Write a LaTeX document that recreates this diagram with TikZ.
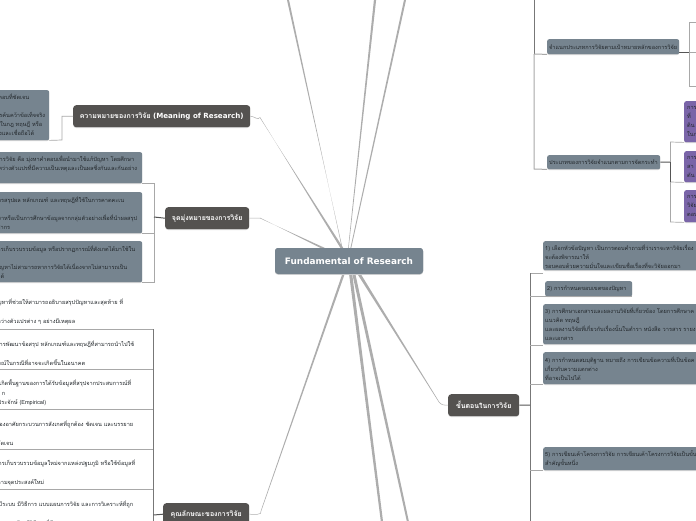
\documentclass[tikz,border=0pt]{standalone}
\usepackage{fontspec}
\setmainfont{DejaVu Sans}
\newfontfamily\thaifont[Script=Thai]{Loma}
\usetikzlibrary{calc}
\definecolor{rootc}{HTML}{76848F}
\definecolor{darkc}{HTML}{545250}
\definecolor{boxc}{HTML}{76848F}
\definecolor{purp}{HTML}{7A65A8}
\definecolor{linkc}{HTML}{ADADAD}
\definecolor{brc}{HTML}{A8A8A8}
\definecolor{stubc}{HTML}{555555}
\definecolor{txt}{HTML}{23282C}
\newcommand\Rt[2]{\makebox[\dimexpr#1pt+18pt\relax][r]{#2}}
\newcommand\Dn{\rule{0pt}{13pt}}
\newcommand\Taper[5]{\fill[linkc] ($(#1)+(#3,0)!#4pt!90:(#2)$) -- ($(#2)!#5pt!-90:(#1)$) -- ($(#2)!#5pt!90:(#1)$) -- ($(#1)+(#3,0)!#4pt!-90:(#2)$) -- cycle;}
\tikzset{
 x=1pt,y=-1pt,
 shade line/.style={preaction={fill=black!16,transform canvas={yshift=-0.8pt}}},
 root/.style={draw=none,fill=rootc,rounded corners=3pt,text=white,font=\fontsize{8.9}{10}\selectfont\bfseries,minimum width=148pt,minimum height=26pt,inner sep=0pt},
 title/.style={draw=none,fill=darkc,shade line,rounded corners=3pt,text=white,font=\fontsize{7}{9}\selectfont\bfseries\thaifont,inner sep=0pt,anchor=north west},
 lbox/.style={fill=boxc,shade line,rounded corners=2pt,text=txt,font=\fontsize{5.6}{9}\selectfont\thaifont,inner xsep=2pt,inner ysep=0pt,anchor=north west,align=left},
 wbox/.style={fill=white,text=txt,font=\fontsize{5.6}{9.5}\selectfont\thaifont,inner xsep=2pt,inner ysep=0pt,anchor=north west,align=left},
 pbox/.style={fill=purp,shade line,rounded corners=2pt,text=txt,font=\fontsize{5.6}{9}\selectfont\thaifont,inner xsep=3pt,inner ysep=0pt,anchor=north west,align=left,text width=90pt,minimum height=#1},
 bracket/.style={draw=brc,line width=0.7pt},
 stub/.style={draw=stubc,line width=1pt},
 thinl/.style={draw=linkc,line width=0.5pt},
}
\begin{document}
\begin{tikzpicture}
\useasboundingbox (0,0) rectangle (696,520);
\clip (0,0) rectangle (696,520);
% root and titles positions
\node[root] (root) at (349,261) {Fundamental of Research};
\node[title,minimum width=177pt,minimum height=22pt] (mean) at (73,105) {ความหมายของการวิจัย {\fontspec{DejaVu Sans}\fontsize{7.1}{9}\selectfont\bfseries (Meaning of Research)}};
\node[title,minimum width=84pt,minimum height=22pt] (aim) at (165,207) {จุดมุ่งหมายของการวิจัย};
\node[title,minimum width=86pt,minimum height=22pt] (qual) at (163,503) {คุณลักษณะของการวิจัย};
\node[title,minimum width=71pt,minimum height=22pt] (step) at (448,394) {ขั้นตอนในการวิจัย};
% free ends
\coordinate (e1) at (288,0); \coordinate (e2) at (375,0); \coordinate (e3) at (405,0);
\coordinate (e4) at (382,522); \coordinate (e5) at (408,522);
\coordinate (j1) at (260,117.5); \coordinate (j2) at (260,218);
\coordinate (j3) at (261,511); \coordinate (j4) at (439,402);
% main links
\Taper{root.center}{e1}{-4}{1.7}{1.0}
\Taper{root.center}{e2}{-2}{1.8}{1.1}
\Taper{root.center}{e3}{-1}{1.7}{1.0}
\Taper{root.center}{e4}{0}{1.8}{1.1}
\Taper{root.center}{e5}{2}{1.7}{1.0}
\Taper{root.center}{j1}{1}{1.6}{0.25}
\Taper{root.center}{j2}{1}{1.5}{0.3}
\Taper{root.center}{j3}{-1}{1.7}{0.25}
\Taper{root.center}{j4}{2}{1.6}{0.25}
\draw[thinl] (mean.east) to[out=0,in=-125] (j1);
\draw[thinl] (aim.east) -- (j2);
\draw[thinl] (qual.east) to[out=0,in=-70] (j3);
\draw[thinl] (step.west) to[out=180,in=-55] (j4);
\node[root,shade line] at (root) {Fundamental of Research};
% left boxes: meaning
\node[lbox,text width=65pt,minimum height=50pt] (ma) at (-20,90) {\Rt{29}{คำตอบที่ชัดเจน}\\ \mbox{}\\ \Rt{45}{การค้นคว้าข้อเท็จจริง}\\ \Rt{42}{ใหม่ในกฎ ทฤษฎี หรือ}\\ \Rt{34}{ถูกต้องและเชื่อถือได้}};
\draw[bracket] (ma.south east) -- (62,140) |- (mean.west);
% aims
\node[lbox,text width=158pt,minimum height=31pt] (ab) at (-20,152) {\Rt{134}{เป้าหมายของการวิจัย คือ มุ่งหาคำตอบเพื่อนำมาใช้แก้ปัญหา โดยศึกษา}\\ \Rt{137}{ความสัมพันธ์ระหว่างตัวแปรที่มีความเป็นเหตุและเป็นผลซึ่งกันและกันอย่าง}\\ \mbox{}};
\node[lbox,text width=158pt,minimum height=41pt] (ac) at (-20,192) {\Rt{124}{การสรุปผล หลักเกณฑ์ และทฤษฎีที่ใช้ในการคาดคะเน}\\ \mbox{}\\ \Rt{137}{สำหรับการศึกษาหรือเป็นการศึกษาข้อมูลจากกลุ่มตัวอย่างเพื่อที่นำผลสรุป}\\ \Rt{10}{ประชากร}};
\node[lbox,text width=158pt,minimum height=41pt] (ad) at (-20,241) {\Rt{135}{การเก็บรวบรวมข้อมูล หรือปรากฏการณ์ที่สังเกตได้มาใช้ใน}\\ \mbox{}\\ \Rt{127}{ปัญหาไม่สามารถหาการวิจัยได้เนื่องจากไม่สามารถเป็น}\\ \Rt{4}{ได้}};
\coordinate (abar) at (154,217);
\draw[bracket] (ab.south east) -- (ab.south east -| abar) -- (ad.south east -| abar) -- (ad.south east);
\draw[bracket] (ac.south east) -- (ac.south east -| abar);
\draw[stub] (abar) -- (aim.west);
% qualities
\node[wbox,text width=169pt,minimum height=35pt] (q1) at (-20,294) {\Rt{123}{การแก้ปัญหาที่ช่วยให้สามารถอธิบายสรุปปัญหาและสุดท้าย ที่}\\ \mbox{}\\ \Rt{75}{ระหว่างตัวแปรต่าง ๆ อย่างมีเหตุผล}};
\node[wbox,text width=169pt,minimum height=40pt] (q2) at (-20,329) {\Dn\Rt{134}{การพัฒนาข้อสรุป หลักเกณฑ์และทฤษฎีที่สามารถนำไปใช้}\\ \mbox{}\\ \Rt{85}{คาดการณ์ในกรณีที่อาจจะเกิดขึ้นในอนาคต}};
\node[wbox,text width=169pt,minimum height=40pt] (q3) at (-20,369) {\Dn\Rt{131}{เกิดพื้นฐานของการได้รับข้อมูลที่สรุปจากประสบการณ์ที่}\\ \Rt{5}{ก}\\ \Rt{46}{ประจักษ์ (Empirical)}};
\node[wbox,text width=169pt,minimum height=40pt] (q4) at (-20,409) {\Dn\Rt{133}{ต้องอาศัยกระบวนการสังเกตที่ถูกต้อง ชัดเจน และบรรยาย}\\ \mbox{}\\ \Rt{13}{ชัดเจน}};
\node[wbox,text width=169pt,minimum height=40pt] (q5) at (-20,449) {\Dn\Rt{135}{การเก็บรวบรวมข้อมูลใหม่จากแหล่งปฐมภูมิ หรือใช้ข้อมูลที่}\\ \mbox{}\\ \Rt{44}{ตามจุดประสงค์ใหม่}};
\node[wbox,text width=169pt,minimum height=40pt] (q6) at (-20,489) {\Dn\Rt{133}{มีระบบ มีวิธีการ แบบแผนการวิจัย และการวิเคราะห์ที่ถูก}\\ \mbox{}\\ \Rt{53}{ต้องมีวิธีการที่ดี}};
\coordinate (qbar) at (153.5,515);
\foreach \n in {q1,q2,q3,q4,q5}{\draw[bracket] (\n.south west) -- (\n.south east);}
\draw[draw=stubc!80!white,line width=0.8pt] (q1.south east -| qbar) -- (153.5,522);
\draw[stub] (qbar) -- (qual.west);
% steps
\node[lbox,text width=260pt,minimum height=29pt] (s1) at (543,241) {\rule{0pt}{7pt}1) เลือกหัวข้อปัญหา เป็นการตอบคำถามที่ว่าเราจะหาวิจัยเรื่อง\\ จะต้องพิจารณาให้\\ รอบคอบด้วยความมั่นใจและเขียนชื่อเรื่องที่จะวิจัยออกมา};
\node[lbox,text width=83pt,minimum height=15pt] (s2) at (545,281) {2) การกำหนดขอบเขตของปัญหา};
\node[lbox,text width=260pt,minimum height=40pt] (s3) at (543,304) {3) การศึกษาเอกสารและผลงานวิจัยที่เกี่ยวข้อง โดยการศึกษาค\\ แนวคิด ทฤษฎี\\ และผลงานวิจัยที่เกี่ยวกับเรื่องนั้นในตำรา หนังสือ วารสาร รายงาน\\ และเอกสาร};
\node[lbox,text width=260pt,minimum height=32pt] (s4) at (543,352) {4) การกำหนดสมมุติฐาน หมายถึง การเขียนข้อความที่เป็นข้อค\\ เกี่ยวกับความแตกต่าง\\ ที่อาจเป็นไปได้};
\node[lbox,text width=260pt,minimum height=23pt] (s5) at (543,447) {5) การเขียนเค้าโครงการวิจัย การเขียนเค้าโครงการวิจัยเป็นขั้น\\ สำคัญขั้นหนึ่ง};
\coordinate (sbar) at (530,405);
\draw[bracket] (s1.south west |- 0,273) coordinate (st) -- (530,273) -- (530,522);
\draw[draw=stubc!80!white,line width=0.8pt] (530,273) -- (530,522);
\foreach \n/\y in {s2/296,s3/345,s4/384,s5/470}{\draw[bracket] (530,\y) -- (\n.west |- 0,\y);}
\draw[bracket] (s2.south west) -- (s2.south east);
\draw[stub] (step.east) -- (sbar);
% types
\node[lbox,minimum width=132pt,minimum height=15pt,text width=128pt] (t1) at (547,39) {จำแนกประเภทการวิจัยตามเป้าหมายหลักของการวิจัย};
\node[lbox,minimum width=113pt,minimum height=14pt,text width=109pt] (t2) at (547,155) {ประเภทของการวิจัยจำแนกตามการจัดกระทำ};
\coordinate (tbar) at (534,54);
\draw[draw=stubc!80!white,line width=0.8pt] (534,-2) -- (tbar);
\draw[bracket,line width=1pt] (tbar) -- (t1.south west);
\draw[bracket,line width=1pt] (tbar) -- (534,169) -- (t2.south west);
\coordinate (ubar) at (689,52);
\draw[stub] (t1.east |- ubar) -- (ubar);
\draw[bracket] (698,22) -- (689,22) -- (689,86) -- (698,86);
\draw[bracket] (ubar) -- (698,52);
\node[pbox=41pt] (p1) at (684,101) {การ\\ ที่\\ ดิน\\ ในก};
\node[pbox=31pt] (p2) at (684,151) {การ\\ สา\\ ดัน};
\node[pbox=32pt] (p3) at (684,190) {การ\\ วิจัย\\ ตอบ};
\coordinate (vbar) at (670.5,162);
\draw[stub] (t2.east) -- (670.5,162);
\draw[bracket] (p1.south west) -- (670.5,142) -- (670.5,222) -- (p3.south west);
\draw[bracket] (p2.south west) -- (670.5,182);
\draw[stub,line width=.7pt] (vbar) -- (670.5,182);
\end{tikzpicture}
\end{document}
